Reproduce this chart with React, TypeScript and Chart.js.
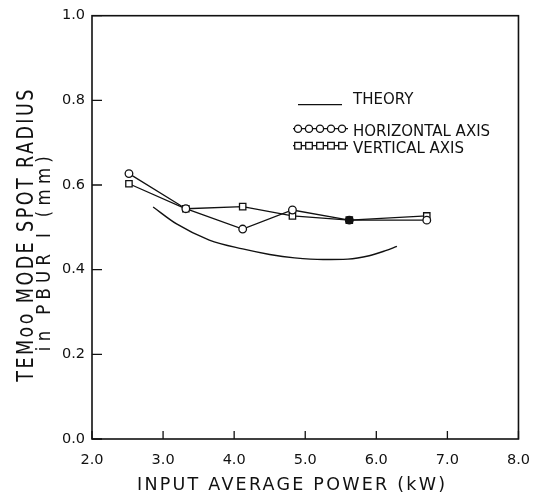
import React, { useEffect, useRef } from 'react';
import { Chart, registerables } from 'chart.js';

Chart.register(...registerables);

// ---- data ----
const powerKW = [2.52, 3.32, 4.12, 4.82, 5.62, 6.71];
const horizontalRadius = [0.627, 0.544, 0.496, 0.541, 0.517, 0.517];
const verticalRadius = [0.603, 0.544, 0.549, 0.527, 0.517, 0.527];
const theoryPower = [2.86, 3.19, 3.65, 4.12, 4.5, 4.85, 5.25, 5.6, 5.9, 6.13, 6.29];
const theoryRadius = [0.548, 0.508, 0.47, 0.449, 0.436, 0.428, 0.424, 0.425, 0.433, 0.445, 0.455];
const xTicks = [2, 3, 4, 5, 6, 7, 8];
const yTicks = [0, 0.2, 0.4, 0.6, 0.8, 1.0];
const legendLabels = ['THEORY', 'HORIZONTAL AXIS', 'VERTICAL AXIS'];
const xTitle = 'INPUT AVERAGE POWER (kW)';
const yTitleLines = ['TEMoo MODE SPOT RADIUS', 'in PBUR I (mm)'];

const INK = '#111';
const FONT = 'DejaVu Sans';

function spacedText(ctx: any, text: string, cx: number, baseY: number, target: number) {
  ctx.letterSpacing = '0px';
  const w0 = ctx.measureText(text).width;
  const ls = (target - w0) / Math.max(1, text.length - 1);
  ctx.textAlign = 'left';
  ctx.letterSpacing = ls + 'px';
  ctx.fillText(text, cx - target / 2, baseY);
  ctx.letterSpacing = '0px';
}

const framePlugin = {
  id: 'frameAndTicks',
  afterDraw(chart: any) {
    const { ctx, chartArea: a, scales } = chart;
    ctx.save();
    ctx.strokeStyle = INK;
    ctx.lineWidth = 1.6;
    ctx.strokeRect(a.left, a.top, a.right - a.left, a.bottom - a.top);
    ctx.lineWidth = 1.3;
    ctx.beginPath();
    xTicks.forEach((v) => {
      const px = scales.x.getPixelForValue(v);
      ctx.moveTo(px, a.bottom);
      ctx.lineTo(px, a.bottom - 8);
    });
    yTicks.forEach((v) => {
      const py = scales.y.getPixelForValue(v);
      ctx.moveTo(a.left, py);
      ctx.lineTo(a.left + 10, py);
    });
    ctx.stroke();
    ctx.restore();
  },
};

const legendPlugin = {
  id: 'customLegend',
  afterDraw(chart: any) {
    const { ctx, chartArea: a } = chart;
    ctx.save();
    ctx.strokeStyle = INK;
    ctx.fillStyle = INK;
    ctx.lineWidth = 1.3;
    const mx0 = a.left + 201;
    const mx1 = a.left + 256;
    const tx = a.left + 261;
    ctx.beginPath();
    ctx.moveTo(a.left + 206, a.top + 89);
    ctx.lineTo(a.left + 250, a.top + 89);
    ctx.stroke();
    const yH = a.top + 113;
    ctx.beginPath();
    ctx.moveTo(mx0, yH);
    ctx.lineTo(mx1, yH);
    ctx.stroke();
    for (let i = 0; i < 5; i++) {
      const cx = mx0 + 5 + i * 11;
      ctx.beginPath();
      ctx.arc(cx, yH, 3.6, 0, Math.PI * 2);
      ctx.fillStyle = '#fff';
      ctx.fill();
      ctx.stroke();
    }
    const yV = a.top + 130;
    ctx.beginPath();
    ctx.moveTo(mx0, yV);
    ctx.lineTo(mx1, yV);
    ctx.stroke();
    for (let i = 0; i < 5; i++) {
      const cx = mx0 + 5 + i * 11;
      ctx.fillStyle = '#fff';
      ctx.fillRect(cx - 3.3, yV - 3.3, 6.6, 6.6);
      ctx.strokeRect(cx - 3.3, yV - 3.3, 6.6, 6.6);
    }
    ctx.fillStyle = INK;
    ctx.font = `15px "${FONT}"`;
    ctx.textAlign = 'left';
    ctx.textBaseline = 'alphabetic';
    ctx.fillText(legendLabels[0], tx, a.top + 88);
    ctx.fillText(legendLabels[1], tx, a.top + 120);
    ctx.fillText(legendLabels[2], tx, a.top + 137);
    ctx.restore();
  },
};

const titlePlugin = {
  id: 'axisTitles',
  afterDraw(chart: any) {
    const { ctx, chartArea: a } = chart;
    ctx.save();
    ctx.fillStyle = INK;
    ctx.textBaseline = 'alphabetic';
    ctx.font = `17.5px "${FONT}"`;
    spacedText(ctx, xTitle, a.left + 199, a.bottom + 51, 308);
    ctx.save();
    ctx.translate(a.left - 59, a.top + 220);
    ctx.rotate(-Math.PI / 2);
    ctx.scale(1, 1.3);
    ctx.font = `17.5px "${FONT}"`;
    spacedText(ctx, yTitleLines[0], 0, 0, 292);
    ctx.restore();
    ctx.save();
    ctx.translate(a.left - 42, a.top + 238);
    ctx.rotate(-Math.PI / 2);
    ctx.scale(1, 1.15);
    ctx.font = `16.5px "${FONT}"`;
    spacedText(ctx, yTitleLines[1], 0, 0, 195);
    ctx.restore();
    ctx.restore();
  },
};

export default function App() {
  const ref = useRef<HTMLCanvasElement>(null);
  useEffect(() => {
    const fillH = powerKW.map((_, i) => (i === 4 ? INK : '#fff'));
    const chart = new Chart(ref.current as HTMLCanvasElement, {
      type: 'line',
      data: {
        datasets: [
          {
            label: legendLabels[0],
            data: theoryPower.map((x, i) => ({ x, y: theoryRadius[i] })),
            borderColor: INK,
            borderWidth: 1.4,
            pointRadius: 0,
            cubicInterpolationMode: 'monotone',
          },
          {
            label: legendLabels[1],
            data: powerKW.map((x, i) => ({ x, y: horizontalRadius[i] })),
            borderColor: INK,
            borderWidth: 1.3,
            pointStyle: 'circle',
            pointRadius: 3.8,
            pointBorderWidth: 1.3,
            pointBorderColor: INK,
            pointBackgroundColor: fillH,
            tension: 0,
          },
          {
            label: legendLabels[2],
            data: powerKW.map((x, i) => ({ x, y: verticalRadius[i] })),
            borderColor: INK,
            borderWidth: 1.3,
            pointStyle: 'rect',
            pointRadius: 4.5,
            pointBorderWidth: 1.3,
            pointBorderColor: INK,
            pointBackgroundColor: fillH,
            tension: 0,
          },
        ],
      } as any,
      options: {
        animation: false,
        responsive: false,
        devicePixelRatio: 1,
        layout: { padding: { top: 14, right: 23, left: 0, bottom: 0 } },
        plugins: { legend: { display: false }, tooltip: { enabled: false } },
        scales: {
          x: {
            type: 'linear',
            min: 2,
            max: 8,
            afterBuildTicks: (s: any) => {
              s.ticks = xTicks.map((v) => ({ value: v }));
            },
            afterFit: (s: any) => {
              s.height = 58;
            },
            grid: { display: false, drawTicks: false },
            border: { display: false },
            ticks: {
              padding: 13,
              color: INK,
              font: { family: FONT, size: 14.5 },
              maxRotation: 0,
              callback: (v: any) => Number(v).toFixed(1),
            },
          },
          y: {
            type: 'linear',
            min: 0,
            max: 1,
            afterBuildTicks: (s: any) => {
              s.ticks = yTicks.map((v) => ({ value: v }));
            },
            afterFit: (s: any) => {
              s.width = 92;
            },
            grid: { display: false, drawTicks: false },
            border: { display: false },
            ticks: {
              padding: 7,
              color: INK,
              font: { family: FONT, size: 14.5 },
              callback: (v: any) => Number(v).toFixed(1),
            },
          },
        },
      } as any,
      plugins: [framePlugin, legendPlugin, titlePlugin],
    });
    return () => chart.destroy();
  }, []);
  return (
    <div style={{ position: 'fixed', left: 0, top: 0, width: 543, height: 497, background: '#fff' }}>
      <canvas ref={ref} width={543} height={497} style={{ width: 543, height: 497, display: 'block' }} />
    </div>
  );
}
